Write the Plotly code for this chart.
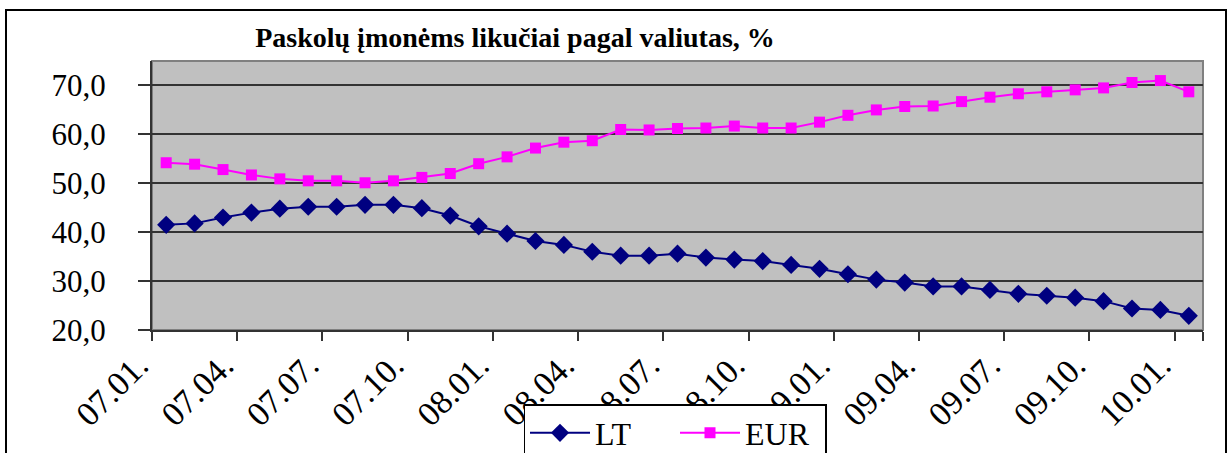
import plotly.graph_objects as go

# Categories: monthly, 2007-01 .. 2010-01
months = [f"{y:02d}.{m:02d}." for y in (7, 8, 9) for m in range(1, 13)] + ["10.01."]
tick_labels = months[::3]

LT = [41.5, 41.8, 43.0, 44.0, 44.8, 45.2, 45.2, 45.6, 45.6, 44.9,
      43.4, 41.2, 39.7, 38.2, 37.4, 36.0, 35.2, 35.2, 35.6, 34.8,
      34.4, 34.1, 33.3, 32.5, 31.4, 30.3, 29.7, 28.9, 28.9, 28.2,
      27.4, 27.0, 26.6, 25.9, 24.4, 24.1, 22.9]
EUR = [54.2, 53.9, 52.8, 51.7, 50.9, 50.5, 50.5, 50.1, 50.5, 51.2,
       52.0, 54.0, 55.4, 57.2, 58.4, 58.7, 61.0, 60.9, 61.2, 61.3,
       61.7, 61.3, 61.3, 62.5, 63.9, 65.0, 65.7, 65.8, 66.7, 67.6,
       68.3, 68.7, 69.1, 69.5, 70.6, 71.0, 68.7]

W, H = 1229, 453
ML, MR, MT, MB = 152, 26, 61, 123
PW, PH = W - ML - MR, H - MT - MB
FONT = "Liberation Serif"

def px_x(x):
    return (x - ML) / PW

def px_y(y):
    return (H - MB - y) / PH

fig = go.Figure()
fig.add_trace(go.Scatter(
    x=months, y=LT, name="LT", mode="lines+markers",
    line=dict(color="#000080", width=2),
    marker=dict(symbol="diamond", size=14, color="#000080"),
))
fig.add_trace(go.Scatter(
    x=months, y=EUR, name="EUR", mode="lines+markers",
    line=dict(color="#FF00FF", width=2),
    marker=dict(symbol="square", size=11, color="#FF00FF"),
))

fig.update_layout(
    width=W, height=H,
    margin=dict(l=ML, r=MR, t=MT, b=MB, pad=0, autoexpand=False),
    paper_bgcolor="white",
    plot_bgcolor="#C0C0C0",
    separators=", ",
    font=dict(family=FONT, color="black", size=28),
    title=dict(
        text="<b>Paskolų įmonėms likučiai pagal valiutas, %</b>",
        x=515 / W, xanchor="center", xref="container",
        y=1 - 37 / H, yanchor="middle", yref="container",
        font=dict(family=FONT, size=28, color="black"),
    ),
    showlegend=True,
    legend=dict(
        orientation="h",
        x=px_x(675), xanchor="center",
        y=px_y(404), yanchor="top",
        bgcolor="white", bordercolor="black", borderwidth=1.5,
        font=dict(family=FONT, size=32, color="black"),
        itemwidth=60,
        entrywidth=75, entrywidthmode="pixels",
    ),
    xaxis=dict(
        type="category",
        categoryorder="array", categoryarray=months,
        range=[-0.5, len(months) - 0.5],
        tickmode="array", tickvals=tick_labels, ticktext=tick_labels,
        tickson="boundaries",
        ticks="outside", ticklen=9, tickcolor="#333333", tickwidth=1.5,
        tickangle=-45,
        tickfont=dict(family=FONT, size=34, color="black"),
        ticklabelstandoff=0,
        ticklabelshift=-28,
        automargin=False,
        showgrid=False, zeroline=False,
        showline=True, linecolor="#333333", linewidth=2,
    ),
    yaxis=dict(
        range=[20, 75],
        tickmode="linear", tick0=20, dtick=10,
        tickformat=".1f",
        ticks="outside", ticklen=12, tickcolor="#333333", tickwidth=1.5,
        tickfont=dict(family=FONT, size=31, color="black"),
        ticklabelstandoff=26,
        automargin=False,
        showgrid=True, gridcolor="#333333", gridwidth=1.5,
        zeroline=False,
        showline=True, linecolor="#333333", linewidth=2,
    ),
    shapes=[
        # plot-area border (top/right)
        dict(type="rect", xref="paper", yref="paper", x0=0, x1=1, y0=0, y1=1,
             line=dict(color="#808080", width=2), layer="below"),
        # chart outer border
        dict(type="rect", xref="paper", yref="paper",
             x0=px_x(6), x1=px_x(1226), y0=px_y(470), y1=px_y(10),
             line=dict(color="black", width=2)),
    ],
)

fig.write_html("out.html", config={"displayModeBar": False},
               post_script="document.body.style.margin='0';")
